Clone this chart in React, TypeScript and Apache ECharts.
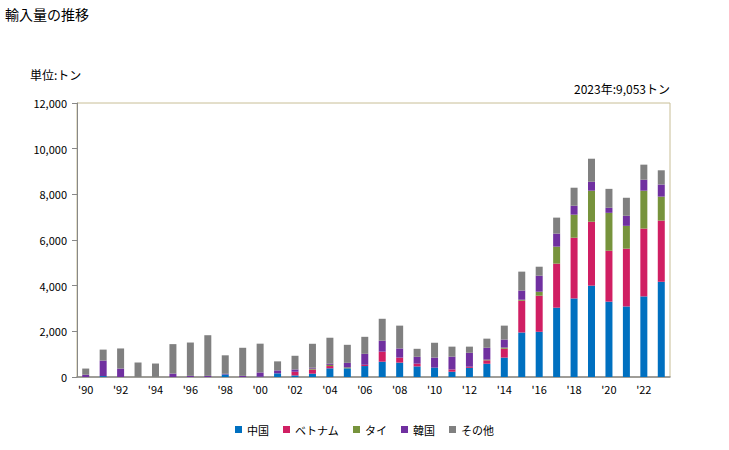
import React, { useEffect, useRef } from "react";
import * as echarts from "echarts";

const years = [
  "'90", "'91", "'92", "'93", "'94", "'95", "'96", "'97", "'98", "'99",
  "'00", "'01", "'02", "'03", "'04", "'05", "'06", "'07", "'08", "'09",
  "'10", "'11", "'12", "'13", "'14", "'15", "'16", "'17", "'18", "'19",
  "'20", "'21", "'22", "'23",
];
const china = [0, 40, 0, 0, 0, 0, 0, 0, 110, 0, 10, 160, 70, 145, 380, 380, 480, 670, 630, 465, 410, 230, 400, 580, 850, 1950, 1980, 3035, 3440, 4000, 3300, 3090, 3530, 4170];
const vietnam = [0, 0, 0, 0, 0, 0, 0, 0, 0, 0, 0, 0, 160, 180, 100, 0, 55, 440, 220, 120, 0, 100, 50, 150, 390, 1390, 1580, 1930, 2660, 2800, 2230, 2530, 2970, 2680];
const thai = [0, 0, 0, 0, 0, 0, 0, 0, 0, 0, 0, 0, 0, 40, 50, 40, 0, 0, 0, 0, 0, 0, 0, 30, 50, 45, 175, 745, 1010, 1360, 1660, 1000, 1660, 1050];
const korea = [100, 680, 370, 0, 0, 150, 50, 50, 30, 50, 190, 130, 100, 40, 50, 200, 480, 480, 400, 300, 440, 560, 610, 520, 350, 400, 700, 570, 390, 390, 220, 440, 480, 530];
const others = [270, 480, 880, 635, 590, 1290, 1460, 1780, 810, 1230, 1260, 395, 600, 1050, 1140, 790, 745, 960, 1000, 350, 650, 440, 270, 400, 610, 830, 395, 700, 790, 1010, 830, 790, 660, 623];
const yTicks = [0, 2000, 4000, 6000, 8000, 10000, 12000];

const seriesNames = ["中国", "ベトナム", "タイ", "韓国", "その他"];
const seriesColors = ["#0070C0", "#D01F63", "#77933C", "#7030A0", "#808080"];
const FONT = "'Noto Sans CJK JP', sans-serif";

export default function App() {
  const ref = useRef<HTMLDivElement>(null);
  useEffect(() => {
    if (!ref.current) return;
    const chart = echarts.init(ref.current, null, { renderer: "svg" });
    const dataSets = [china, vietnam, thai, korea, others];
    chart.setOption({
      animation: false,
      backgroundColor: "#ffffff",
      textStyle: { fontFamily: FONT },
      title: [
        { text: "輸入量の推移", left: 0, top: 2, textStyle: { fontSize: 14, fontWeight: "normal", color: "#000", fontFamily: FONT } },
        { text: "単位:トン", left: 25, top: 63, textStyle: { fontSize: 12, fontWeight: "normal", color: "#000", fontFamily: FONT } },
        { text: "2023年:9,053トン", right: 54, top: 77, textStyle: { fontSize: 12, fontWeight: "normal", color: "#000", fontFamily: FONT } },
      ],
      legend: {
        bottom: 10,
        left: "center",
        itemWidth: 7,
        itemHeight: 7,
        itemGap: 14,
        icon: "rect",
        textStyle: { fontSize: 11, color: "#000", fontFamily: FONT },
        data: seriesNames,
      },
      grid: {
        left: 77,
        right: 59,
        top: 103,
        bottom: 73,
        show: true,
        borderColor: "#C8BE96",
        borderWidth: 1,
      },
      xAxis: {
        type: "category",
        data: years,
        axisLine: { lineStyle: { color: "#888888", width: 1.5 } },
        axisTick: { show: false },
        axisLabel: { interval: 1, color: "#000", fontSize: 11, margin: 6, fontFamily: FONT },
      },
      yAxis: {
        type: "value",
        min: 0,
        max: 12000,
        interval: 2000,
        axisLine: { show: true, lineStyle: { color: "#888888" } },
        axisTick: { show: true, length: 5, lineStyle: { color: "#888888" } },
        splitLine: { show: false },
        axisLabel: {
          color: "#000",
          fontSize: 11,
          margin: 10,
          fontFamily: FONT,
          formatter: (v: number) => (yTicks.includes(v) ? v.toLocaleString("en-US") : ""),
        },
      },
      series: seriesNames.map((name, i) => ({
        name,
        type: "bar",
        stack: "total",
        barWidth: 7,
        itemStyle: { color: seriesColors[i] },
        data: dataSets[i],
      })),
    });
    return () => chart.dispose();
  }, []);
  return <div ref={ref} style={{ width: 729, height: 450, position: "absolute", left: 0, top: 0 }} />;
}
